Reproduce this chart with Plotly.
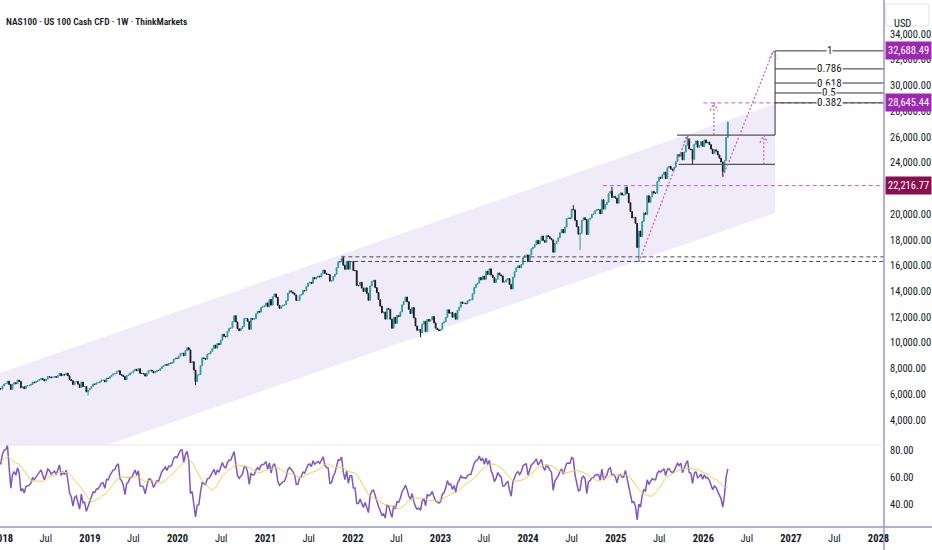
import pandas as pd
import plotly.graph_objects as go

# NAS100 weekly closes, one value per week (bar dated on the Monday)
close_2017 = [4990, 5010, 5040, 5120, 5140, 5220, 5300, 5320, 5370, 5380,
              5400, 5360, 5440, 5400, 5340, 5410, 5580, 5640, 5700, 5670,
              5790, 5880, 5710, 5660, 5720, 5650, 5710, 5880, 5940, 5920,
              5930, 5830, 5760, 5830, 5990, 5930, 5990, 5940, 6020, 6080,
              6110, 6110, 6280, 6340, 6320, 6330, 6380, 6300, 6330, 6440,
              6450, 6400]
close_2018 = [6650, 6800, 6830, 7020, 6760, 6380, 6780, 6900, 6820, 7110,
              7000, 6500, 6580, 6440, 6650, 6670, 6700, 6760, 6950, 6900,
              6990, 7060, 7150, 7230, 7140, 7040, 7170, 7380, 7350, 7290,
              7330, 7380, 7320, 7460, 7620, 7440, 7540, 7500, 7630, 7440,
              7150, 7050, 6750, 6960, 7000, 6780, 6530, 6950, 6600, 6610,
              6190, 6330, 6460]
close_2019 = [6630, 6800, 6780, 6900, 6900, 7000, 7090, 7100, 6960, 7240,
              7230, 7380, 7490, 7590, 7600, 7760, 7830, 7530, 7480, 7380,
              7130, 7450, 7510, 7660, 7670, 7830, 7940, 7830, 7990, 7620,
              7620, 7590, 7410, 7630, 7850, 7870, 7800, 7660, 7760, 7860,
              7850, 8000, 8160, 8230, 8320, 8260, 8410, 8400, 8470, 8730,
              8800, 8790]
close_2020 = [8970, 9170, 9190, 8990, 9400, 9620, 9450, 8460, 8530, 7880,
              6990, 7500, 7530, 8230, 8830, 8780, 8720, 9120, 9150, 9330,
              9560, 9820, 9590, 9950, 9850, 10200, 10670, 10500, 10460, 10900,
              11130, 11150, 11650, 12110, 11620, 11090, 10940, 11120, 11270, 11890,
              11890, 11670, 11050, 11900, 11830, 11860, 12260, 12460, 12380, 12760,
              12800, 12890]
close_2021 = [13100, 12800, 13370, 12930, 13590, 13800, 13540, 12910, 12670, 12840,
              12920, 12960, 13270, 13850, 14040, 13950, 13860, 13720, 13290, 13300,
              13690, 13770, 14070, 14030, 14370, 14640, 14700, 14610, 15080, 14960,
              15100, 15180, 15120, 15400, 15650, 15400, 15330, 15310, 14790, 14830,
              15150, 15330, 15850, 16300, 16290, 16570, 16030, 15710, 16340, 15720,
              16310, 16320]
close_2022 = [15610, 15610, 14440, 14440, 14700, 14250, 13980, 14270, 13840, 13300,
              14420, 14780, 14860, 14290, 13900, 13350, 12850, 12320, 12390, 11840,
              12680, 12610, 11830, 11130, 11990, 11510, 12130, 12040, 12400, 12950,
              13210, 13560, 13190, 12600, 12270, 12740, 11930, 11310, 10970, 11040,
              10790, 11460, 11670, 10870, 11820, 11680, 11790, 12050, 11550, 11140,
              11020, 10940]
close_2023 = [11040, 11540, 11630, 11970, 12570, 12300, 12360, 11990, 12290, 11830,
              12520, 12770, 13180, 13060, 13080, 13040, 13250, 13340, 13340, 13810,
              14300, 14550, 14640, 15080, 14890, 15180, 14940, 15570, 15310, 15750,
              15270, 15070, 14690, 14940, 15430, 15280, 15200, 14700, 14720, 14900,
              14990, 14540, 14180, 15100, 15530, 15840, 15980, 15840, 16090, 16620,
              16780, 16830]
close_2024 = [16310, 16830, 17310, 17420, 17640, 17960, 17690, 17940, 18300, 17960,
              17810, 18340, 18250, 18110, 18000, 17040, 17720, 17890, 18160, 18550,
              18810, 18540, 19000, 19660, 19700, 19680, 20390, 20330, 19520, 19020,
              18440, 18510, 19510, 19720, 19570, 18420, 19590, 19690, 20000, 20040,
              20270, 20360, 20350, 20030, 21120, 20390, 20740, 20930, 21620, 21780,
              21290, 21390, 21240]
close_2025 = [20850, 21510, 21650, 21480, 21490, 22110, 21610, 20880, 20200, 19700,
              19750, 19280, 17400, 18690, 18260, 19430, 20100, 19970, 21430, 20920,
              21340, 21760, 21630, 21630, 22530, 22870, 22780, 23070, 23270, 22760,
              23610, 23710, 23500, 23420, 23650, 24090, 24630, 24500, 24790, 24220,
              24820, 25360, 25860, 25060, 25010, 24240, 25430, 25690, 25200, 25350,
              25640, 25250]
close_2026 = [25770, 25530, 25600, 25400, 25050, 24700, 25000, 24900, 24600, 24350,
              24050, 23300, 24150, 25950, 27150]
first_open = 4863

# weeks whose wick reaches well past the body
spike_low_weeks = ["2018-12-24", "2020-03-16", "2022-10-10", "2024-08-05",
                   "2025-04-07", "2025-11-17", "2026-03-23"]
spike_low_prices = [5900, 6700, 10440, 17200, 16280, 23870, 22900]
spike_high_weeks = ["2021-11-22", "2024-07-08", "2024-12-16", "2025-10-27"]
spike_high_prices = [16760, 20700, 22130, 26160]

# drawings
channel_dates = ["2017-12-22", "2026-10-27"]
channel_top = [7650, 28560]
channel_bottom = [-820, 20090]

fib_levels = [1, 0.786, 0.618, 0.5, 0.382]
fib_zero = 26146.3
fib_one = 32688.49
range_low = 23870

axis_labels = [32688.49, 28645.44, 22216.77]
axis_label_colors = ["#9c27b0", "#9c27b0", "#880e4f"]

time_ticks = ["2018-01-01", "2018-07-01", "2019-01-01", "2019-07-01", "2020-01-01",
              "2020-07-01", "2021-01-01", "2021-07-01", "2022-01-01", "2022-07-01",
              "2023-01-01", "2023-07-01", "2024-01-01", "2024-07-01", "2025-01-01",
              "2025-07-01", "2026-01-01", "2026-07-01", "2027-01-01", "2027-07-01",
              "2028-01-01"]
time_labels = ["<b>2018</b>", "Jul", "<b>2019</b>", "Jul", "<b>2020</b>", "Jul",
               "<b>2021</b>", "Jul", "<b>2022</b>", "Jul", "<b>2023</b>", "Jul",
               "<b>2024</b>", "Jul", "<b>2025</b>", "Jul", "<b>2026</b>", "Jul",
               "<b>2027</b>", "Jul", "<b>2028</b>"]
price_ticks = list(range(4000, 34001, 2000))
rsi_ticks = [40, 60, 80]

closes = (close_2017 + close_2018 + close_2019 + close_2020 + close_2021 +
          close_2022 + close_2023 + close_2024 + close_2025 + close_2026)
weeks = pd.date_range("2017-01-02", periods=len(closes), freq="W-MON")

opens = [first_open] + closes[:-1]
highs = [max(o, c) for o, c in zip(opens, closes)]
lows = [min(o, c) for o, c in zip(opens, closes)]
for d, p in zip(spike_low_weeks, spike_low_prices):
    lows[weeks.get_loc(pd.Timestamp(d))] = p
for d, p in zip(spike_high_weeks, spike_high_prices):
    highs[weeks.get_loc(pd.Timestamp(d))] = p

# RSI 14 + its 14 SMA
s = pd.Series(closes, dtype=float)
delta = s.diff()
gain = delta.clip(lower=0).ewm(alpha=1 / 14, adjust=False).mean()
loss = (-delta.clip(upper=0)).ewm(alpha=1 / 14, adjust=False).mean()
rsi = 100 - 100 / (1 + gain / loss)
rsi_ma = rsi.rolling(14).mean()

X0, X1 = "2017-12-22", "2028-01-24"
XR = 884 / 932
PINK = "#c45ac8"
DARK = "#4a4a58"
FONT = "Liberation Sans Narrow, Roboto Condensed, Roboto"

fig = go.Figure()

fig.add_trace(go.Scatter(
    x=[channel_dates[0], channel_dates[1], channel_dates[1], channel_dates[0]],
    y=[channel_top[0], channel_top[1], channel_bottom[1], channel_bottom[0]],
    fill="toself", fillcolor="rgba(126,87,194,0.12)", mode="lines",
    line=dict(width=0), hoverinfo="skip"))

fig.add_trace(go.Candlestick(
    x=weeks, open=opens, high=highs, low=lows, close=closes,
    increasing=dict(line=dict(color="#26a69a", width=1), fillcolor="#26a69a"),
    decreasing=dict(line=dict(color="#111111", width=1), fillcolor="#111111"),
    whiskerwidth=0))

fig.add_trace(go.Scatter(x=weeks, y=rsi, mode="lines", yaxis="y2",
                         line=dict(color="#7e57c2", width=1.5)))
fig.add_trace(go.Scatter(x=weeks, y=rsi_ma, mode="lines", yaxis="y2",
                         line=dict(color="#f2d04a", width=1)))


def seg(x0, y0, x1, y1, color, dash="solid", width=1):
    fig.add_shape(type="line", xref="x", yref="y", x0=x0, y0=y0, x1=x1, y1=y1,
                  line=dict(color=color, dash=dash, width=width), layer="above")


def caret(x, y):
    t = pd.Timestamp(x)
    seg(t - pd.Timedelta(days=16), y - 600, t, y, PINK, "2px,2px", 1.2)
    seg(t, y, t + pd.Timedelta(days=16), y - 600, PINK, "2px,2px", 1.2)


# horizontal levels
seg("2021-11-14", 16680, X1, 16680, DARK, "4px,3px")
seg("2021-12-08", 16320, X1, 16320, DARK, "4px,3px")
seg("2024-11-08", 22216.77, X1, 22216.77, PINK, "4px,3px")
seg("2026-01-01", 28645.44, X1, 28645.44, PINK, "4px,3px")

# consolidation range
seg("2025-09-13", fib_zero, "2026-10-27", fib_zero, "#555555", width=1.2)
seg("2025-09-20", range_low, "2026-10-27", range_low, "#555555", width=1.2)

# fib extension
seg("2026-10-27", fib_zero, "2026-10-27", fib_one, "#333333")
for lvl in fib_levels:
    p = fib_zero + lvl * (fib_one - fib_zero)
    seg("2026-10-27", p, X1, p, "#333333")
    fig.add_annotation(x=829 / 932, xref="paper", xanchor="center", y=p, yref="y",
                       text=str(lvl), showarrow=False, bgcolor="white", borderpad=0,
                       font=dict(family=FONT, size=11, color="#131722"))

# projection dotted lines
seg("2025-04-07", 16280, "2025-10-27", 26160, PINK, "2px,2px", 1.2)
caret("2025-10-27", 26160)
seg("2026-03-23", 22900, "2026-10-20", fib_one, PINK, "2px,2px", 1.2)
caret("2026-10-20", fib_one)
seg("2026-02-14", fib_zero, "2026-02-14", 28645.44, PINK, "2px,2px", 1.2)
caret("2026-02-14", 28645.44)
seg("2026-09-10", range_low, "2026-09-10", fib_zero, PINK, "2px,2px", 1.2)
caret("2026-09-10", fib_zero)

for v, c in zip(axis_labels, axis_label_colors):
    fig.add_annotation(x=885 / 932, xref="paper", xanchor="left", y=v, yref="y",
                       text=f"{v:,.2f}", showarrow=False, bgcolor=c, borderpad=2,
                       font=dict(family=FONT, size=10.5, color="white"))

# frame lines
fig.add_shape(type="line", xref="paper", yref="paper", x0=XR, x1=XR, y0=0, y1=1,
              line=dict(color="#9b93cf", width=1.5))
fig.add_shape(type="line", xref="paper", yref="paper", x0=0, x1=1, y0=23 / 550,
              y1=23 / 550, line=dict(color="#9b93cf", width=1.5))
fig.add_shape(type="line", xref="paper", yref="paper", x0=0, x1=XR, y0=105 / 550,
              y1=105 / 550, line=dict(color="#e6e6ee", width=1))
fig.add_shape(type="rect", xref="paper", yref="paper", x0=886 / 932, x1=929 / 932,
              y0=1 - 26 / 550, y1=1 - 4 / 550, line=dict(color="#e0e3eb", width=1),
              fillcolor="white")
fig.add_annotation(x=892 / 932, xref="paper", xanchor="left", y=1 - 15 / 550,
                   yref="paper", text="USD", showarrow=False,
                   font=dict(family=FONT, size=10.5, color="#131722"))
fig.add_annotation(x=4 / 932, xref="paper", xanchor="left", y=1 - 14 / 550,
                   yref="paper", text="NAS100 · US 100 Cash CFD · 1W · ThinkMarkets",
                   showarrow=False,
                   font=dict(family=FONT, size=9.5, color="#131722", weight=600))

fig.update_layout(
    width=932, height=550, margin=dict(l=0, r=0, t=0, b=0, autoexpand=False),
    paper_bgcolor="white", plot_bgcolor="white", showlegend=False,
    font=dict(family=FONT, size=10.5, color="#131722"),
    xaxis=dict(type="date", range=[X0, X1], domain=[0, XR], anchor="y2",
               automargin=False, showgrid=False, zeroline=False,
               rangeslider=dict(visible=False),
               tickvals=time_ticks, ticktext=time_labels, ticks="",
               ticklabelstandoff=3, ticklabeloverflow="allow",
               tickfont=dict(size=10.5)),
    yaxis=dict(domain=[105 / 550, 1], range=[2057, 36642], side="right",
               anchor="x", automargin=False, showgrid=False, zeroline=False,
               tickvals=price_ticks, tickformat=",.2f", ticks="",
               ticklabelstandoff=5, ticklabeloverflow="allow"),
    yaxis2=dict(domain=[23 / 550, 105 / 550], range=[22.74, 84.28], side="right",
                anchor="x", automargin=False, showgrid=False, zeroline=False,
                tickvals=rsi_ticks, tickformat=".2f", ticks="",
                ticklabelstandoff=5, ticklabeloverflow="allow"),
)

# the page body has a default 8px margin; drop it so the figure sits at 0,0
fig.write_html("out.html", config={"displayModeBar": False},
               post_script="document.body.style.margin = '0';")
